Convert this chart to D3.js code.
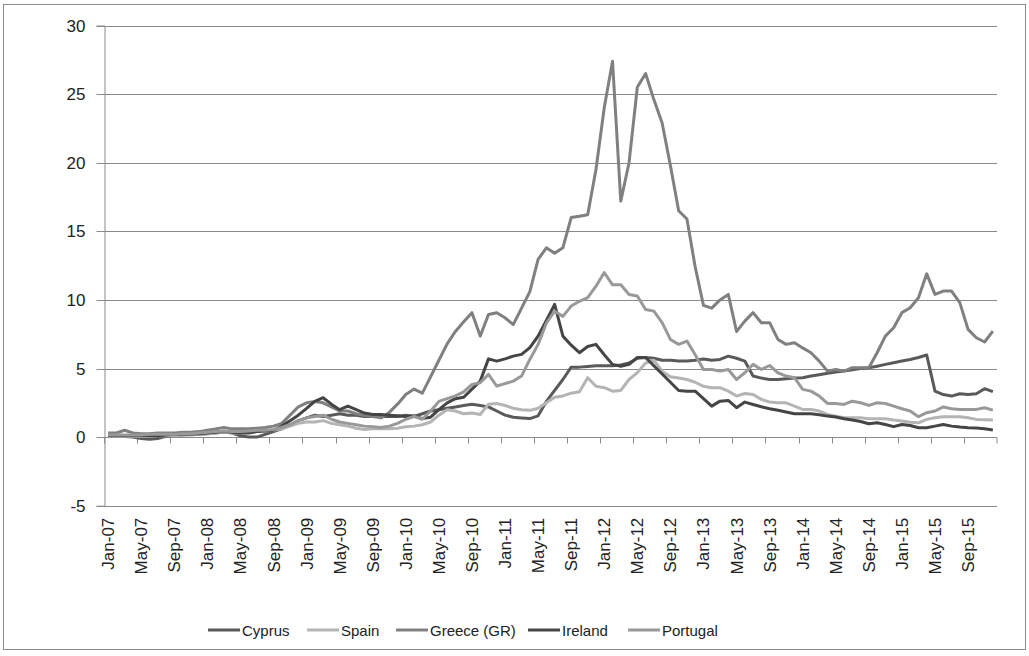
<!DOCTYPE html>
<html><head><meta charset="utf-8">
<script src="https://cdn.jsdelivr.net/npm/d3@7"></script>
<style>body{margin:0;background:#fff}svg{display:block}</style>
</head><body>
<svg id="c" width="1029" height="656"></svg>
<script>
const monthNames = ["Jan","Feb","Mar","Apr","May","Jun","Jul","Aug","Sep","Oct","Nov","Dec"];
const years = ["07","08","09","10","11","12","13","14","15"];
const categories = [];
years.forEach(y => monthNames.forEach(m => categories.push(m + "-" + y)));
const yTicks = [-5, 0, 5, 10, 15, 20, 25, 30];
const seriesNames = ["Cyprus", "Spain", "Greece (GR)", "Ireland", "Portugal"];
const seriesColors = ["#5a5a5a", "#b4b4b4", "#808080", "#454545", "#999999"];

const cyprus = [0.1,0.1,0.05,0.0,-0.1,-0.15,-0.1,0.05,0.1,0.15,0.2,0.2,
 0.25,0.3,0.4,0.3,0.1,0.0,0.0,0.2,0.4,0.6,0.9,1.2,
 1.4,1.6,1.5,1.6,1.7,1.6,1.6,1.5,1.5,1.5,1.5,1.5,
 1.6,1.5,1.7,1.9,2.0,2.1,2.2,2.3,2.4,2.3,2.2,1.9,
 1.6,1.45,1.4,1.35,1.55,2.6,3.4,4.2,5.1,5.1,5.15,5.2,
 5.2,5.2,5.25,5.4,5.75,5.8,5.75,5.6,5.6,5.55,5.55,5.6,
 5.7,5.6,5.66,5.9,5.75,5.54,4.45,4.3,4.2,4.2,4.25,4.3,
 4.33,4.45,4.55,4.65,4.75,4.81,4.9,5.0,5.05,5.17,5.3,5.42,
 5.55,5.66,5.8,5.98,3.35,3.1,2.99,3.16,3.1,3.16,3.53,3.31];
const spain = [0.05,0.05,0.05,0.05,0.05,0.05,0.1,0.1,0.1,0.15,0.15,0.2,
 0.25,0.3,0.35,0.3,0.3,0.35,0.4,0.45,0.5,0.6,0.8,1.0,
 1.1,1.1,1.2,1.0,0.9,0.8,0.65,0.55,0.6,0.6,0.6,0.65,
 0.75,0.8,0.9,1.1,1.6,2.0,1.9,1.7,1.75,1.65,2.4,2.45,
 2.3,2.1,2.0,1.95,2.1,2.5,2.9,3.0,3.2,3.3,4.33,3.7,
 3.6,3.35,3.4,4.2,4.7,5.4,5.6,4.8,4.4,4.3,4.2,4.0,
 3.7,3.6,3.6,3.35,2.99,3.18,3.11,2.75,2.55,2.5,2.5,2.26,
 2.02,2.02,1.9,1.65,1.53,1.41,1.41,1.41,1.34,1.34,1.34,1.24,
 1.17,1.09,1.04,1.29,1.41,1.49,1.49,1.49,1.41,1.29,1.26,1.24];
const greece = [0.3,0.3,0.5,0.3,0.25,0.25,0.3,0.3,0.3,0.35,0.35,0.4,
 0.5,0.6,0.7,0.6,0.6,0.6,0.65,0.7,0.8,1.0,1.6,2.2,
 2.5,2.6,2.5,2.2,1.9,1.9,1.7,1.6,1.5,1.4,1.8,2.4,
 3.1,3.5,3.2,4.4,5.6,6.8,7.7,8.4,9.07,7.36,8.94,9.07,
 8.7,8.2,9.4,10.6,12.95,13.8,13.4,13.8,16.0,16.1,16.2,19.5,
 24.0,27.4,17.2,20.0,25.5,26.5,24.6,22.9,19.8,16.5,15.9,12.4,
 9.6,9.4,10.0,10.4,7.7,8.45,9.07,8.34,8.34,7.12,6.76,6.88,
 6.5,6.15,5.54,4.81,4.93,4.81,5.06,5.06,5.06,6.15,7.36,7.97,
 9.07,9.43,10.16,11.9,10.4,10.64,10.64,9.8,7.85,7.24,6.93,7.73];
const ireland = [0.1,0.1,0.1,0.1,0.1,0.1,0.1,0.15,0.2,0.2,0.2,0.25,
 0.3,0.35,0.4,0.35,0.3,0.3,0.4,0.45,0.5,0.8,1.2,1.6,
 2.1,2.6,2.87,2.4,2.0,2.26,2.0,1.75,1.65,1.65,1.6,1.55,
 1.5,1.55,1.35,1.45,2.0,2.5,2.8,2.9,3.5,4.08,5.7,5.54,
 5.7,5.9,6.03,6.52,7.36,8.5,9.67,7.36,6.7,6.15,6.6,6.76,
 6.0,5.3,5.17,5.3,5.8,5.8,5.2,4.6,4.0,3.4,3.35,3.35,
 2.8,2.26,2.62,2.67,2.14,2.55,2.38,2.21,2.07,1.95,1.83,1.7,
 1.7,1.7,1.63,1.53,1.46,1.34,1.24,1.14,0.97,1.04,0.92,0.76,
 0.92,0.85,0.68,0.68,0.8,0.92,0.8,0.73,0.68,0.66,0.61,0.51];
const portugal = [0.15,0.15,0.15,0.15,0.15,0.2,0.2,0.2,0.2,0.25,0.25,0.3,
 0.35,0.4,0.45,0.4,0.4,0.45,0.5,0.5,0.55,0.7,0.9,1.2,
 1.4,1.5,1.6,1.3,1.1,1.0,0.9,0.8,0.75,0.7,0.8,1.0,
 1.3,1.5,1.3,1.9,2.6,2.8,3.0,3.3,3.84,3.96,4.57,3.72,
 3.9,4.08,4.45,5.66,6.76,8.3,9.18,8.8,9.55,9.9,10.16,11.0,
 12.0,11.1,11.1,10.4,10.28,9.3,9.18,8.34,7.12,6.76,7.0,6.0,
 4.93,4.93,4.81,4.93,4.2,4.69,5.3,4.93,5.22,4.69,4.45,4.33,
 3.48,3.35,2.99,2.45,2.45,2.38,2.62,2.5,2.31,2.5,2.45,2.26,
 2.07,1.9,1.49,1.78,1.9,2.2,2.07,2.02,2.02,2.02,2.14,1.97];
const seriesValues = [cyprus, spain, greece, ireland, portugal];

const svg = d3.select("#c");
const font = "'Liberation Sans', Arial, sans-serif";
svg.append("rect").attr("x",3.5).attr("y",4.5).attr("width",1022).attr("height",645)
  .attr("fill","#fff").attr("stroke","#8c8c8c").attr("stroke-width",1);

const x = d3.scaleBand().domain(categories).range([104, 997]).paddingInner(0).paddingOuter(0);
const y = d3.scaleLinear().domain([-5, 30]).range([505.7, 25.5]);
const cx = c => x(c) + x.bandwidth()/2;

// gridlines
svg.append("g").selectAll("line").data(yTicks).join("line")
  .attr("x1", 104).attr("x2", 997)
  .attr("y1", d => Math.round(y(d))+0.5).attr("y2", d => Math.round(y(d))+0.5)
  .attr("stroke", "#8a8a8a").attr("stroke-width", 1);

// y axis
const yAxis = d3.axisLeft(y).tickValues(yTicks).tickSize(8).tickPadding(11).tickFormat(d => String(d));
const gy = svg.append("g").attr("transform","translate(104.5,0)").call(yAxis);
gy.select(".domain").attr("stroke","#8a8a8a");
gy.selectAll(".tick line").attr("stroke","#8a8a8a");
gy.selectAll(".tick").attr("transform", d => `translate(0,${Math.round(y(d))+0.5})`);
gy.selectAll("text").attr("font-family", font).attr("font-size", 17).attr("fill","#222").attr("dy","0.35em");

// x axis line at 0 with ticks every 4 categories
const y0 = Math.round(y(0))+0.5;
svg.append("line").attr("x1",104).attr("x2",997).attr("y1",y0).attr("y2",y0).attr("stroke","#8a8a8a");
const tickCats = categories.filter((c,i) => i % 4 === 0);
svg.append("g").selectAll("line").data(tickCats.concat([null])).join("line")
  .attr("x1", d => d===null ? 997 : Math.round(x(d))+0.5)
  .attr("x2", d => d===null ? 997 : Math.round(x(d))+0.5)
  .attr("y1", y0).attr("y2", y0+6).attr("stroke","#8a8a8a");
svg.append("g").selectAll("text").data(tickCats).join("text")
  .attr("transform", d => `translate(${cx(d)+6},${y(-5)+12}) rotate(-90)`)
  .attr("text-anchor","end")
  .attr("font-family", font).attr("font-size", 17).attr("fill","#222")
  .text(d => d);

// lines
const line = d3.line().x((d,i) => cx(categories[i])).y(d => y(d));
svg.append("g").selectAll("path").data(seriesValues).join("path")
  .attr("d", d => line(d)).attr("fill","none")
  .attr("stroke", (d,i) => seriesColors[i]).attr("stroke-width", 3)
  .attr("stroke-linejoin","round");

// legend
const legX = [208, 307, 396, 528, 628];
const lg = svg.append("g");
seriesNames.forEach((n,i) => {
  lg.append("line").attr("x1", legX[i]).attr("x2", legX[i]+32).attr("y1", 630).attr("y2", 630)
    .attr("stroke", seriesColors[i]).attr("stroke-width", 3);
  lg.append("text").attr("x", legX[i]+34).attr("y", 635.5)
    .attr("font-family", font).attr("font-size", 15).attr("fill","#222").text(n);
});
</script>
</body></html>
